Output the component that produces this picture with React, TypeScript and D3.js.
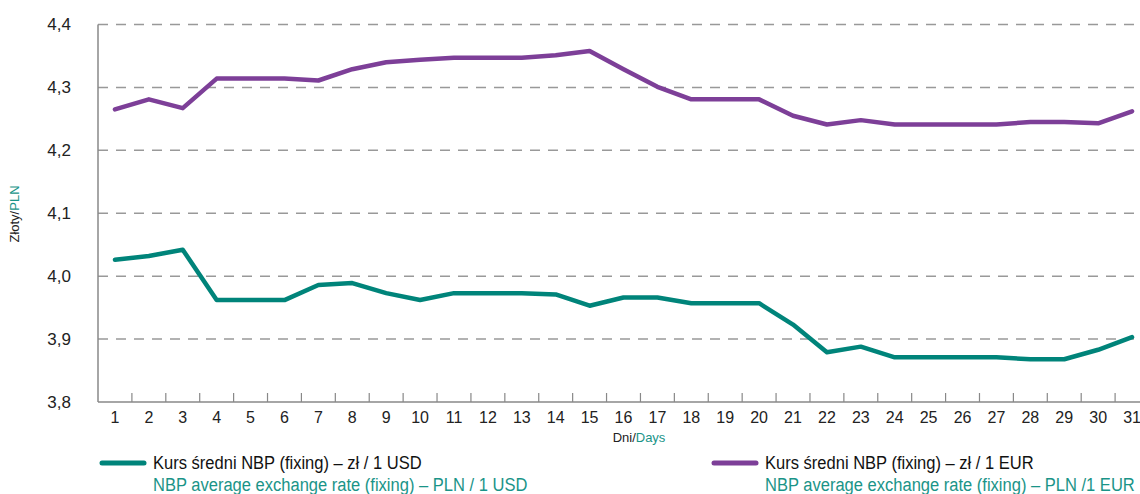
import React, { useEffect, useRef } from "react";
import * as d3 from "d3";

// days of the month
const days = d3.range(1, 32).map(String);

// Kurs średni NBP – zł / 1 USD
const usdValues = [
  4.026, 4.032, 4.042, 3.962, 3.962, 3.962, 3.986, 3.989, 3.973, 3.962,
  3.973, 3.973, 3.973, 3.971, 3.953, 3.966, 3.966, 3.957, 3.957, 3.957,
  3.923, 3.879, 3.888, 3.871, 3.871, 3.871, 3.871, 3.868, 3.868, 3.883,
  3.903,
];

// Kurs średni NBP – zł / 1 EUR
const eurValues = [
  4.265, 4.281, 4.267, 4.314, 4.314, 4.314, 4.311, 4.329, 4.34, 4.344,
  4.347, 4.347, 4.347, 4.351, 4.358, 4.329, 4.301, 4.281, 4.281, 4.281,
  4.255, 4.241, 4.248, 4.241, 4.241, 4.241, 4.241, 4.245, 4.245, 4.243,
  4.262,
];

const yTicks = [3.8, 3.9, 4.0, 4.1, 4.2, 4.3, 4.4];

const TEAL = "#00847a";
const TEAL_TEXT = "#1a9488";
const PURPLE = "#7d3f98";
const FONT = "'Liberation Sans', Arial, sans-serif";

const App = () => {
  const ref = useRef<SVGSVGElement>(null);

  useEffect(() => {
    const svg = d3.select(ref.current);
    svg.selectAll("*").remove();

    const width = 1140;
    const margin = { top: 24.5, left: 98, bottom: 402 };

    const x = d3.scaleBand().domain(days).range([margin.left, 1149]).padding(0);
    const y = d3.scaleLinear().domain([3.8, 4.4]).range([margin.bottom, margin.top]);
    const cx = (d: string) => (x(d) as number) + x.bandwidth() / 2;

    // grid lines
    svg
      .append("g")
      .selectAll("line")
      .data(yTicks.filter((t) => t > 3.8))
      .join("line")
      .attr("x1", margin.left)
      .attr("x2", width)
      .attr("y1", (d) => y(d))
      .attr("y2", (d) => y(d))
      .attr("stroke", "#999")
      .attr("stroke-width", 1.5)
      .attr("stroke-dasharray", "10,8");

    // y labels
    svg
      .append("g")
      .attr("font-family", FONT)
      .attr("font-size", 17)
      .attr("fill", "#222")
      .attr("text-anchor", "end")
      .selectAll("text")
      .data(yTicks)
      .join("text")
      .attr("x", 71)
      .attr("y", (d) => y(d))
      .attr("dy", "0.35em")
      .text((d) => d3.format(".1f")(d).replace(".", ","));

    // axes lines
    svg
      .append("line")
      .attr("x1", margin.left)
      .attr("x2", margin.left)
      .attr("y1", margin.top)
      .attr("y2", margin.bottom)
      .attr("stroke", "#888")
      .attr("stroke-width", 1.5);
    svg
      .append("line")
      .attr("x1", margin.left)
      .attr("x2", width)
      .attr("y1", margin.bottom)
      .attr("y2", margin.bottom)
      .attr("stroke", "#888")
      .attr("stroke-width", 1.5);

    // x ticks (inside)
    svg
      .append("g")
      .selectAll("line")
      .data(days.slice(1))
      .join("line")
      .attr("x1", (d) => x(d) as number)
      .attr("x2", (d) => x(d) as number)
      .attr("y1", margin.bottom - 9)
      .attr("y2", margin.bottom)
      .attr("stroke", "#888")
      .attr("stroke-width", 1.2);

    // x labels
    svg
      .append("g")
      .attr("font-family", FONT)
      .attr("font-size", 16)
      .attr("fill", "#222")
      .attr("text-anchor", "middle")
      .selectAll("text")
      .data(days)
      .join("text")
      .attr("x", cx)
      .attr("y", 423)
      .text((d) => d);

    // axis titles
    const xt = svg
      .append("text")
      .attr("font-family", FONT)
      .attr("font-size", 13)
      .attr("text-anchor", "middle")
      .attr("x", 639)
      .attr("y", 442);
    xt.append("tspan").attr("fill", "#222").text("Dni/");
    xt.append("tspan").attr("fill", TEAL_TEXT).text("Days");

    const yt = svg
      .append("text")
      .attr("font-family", FONT)
      .attr("font-size", 13)
      .attr("text-anchor", "middle")
      .attr("transform", "translate(19,214) rotate(-90)");
    yt.append("tspan").attr("fill", "#222").text("Złoty/");
    yt.append("tspan").attr("fill", TEAL_TEXT).text("PLN");

    // lines
    const line = d3
      .line<number>()
      .x((_, i) => cx(days[i]))
      .y((d) => y(d));

    [
      { values: usdValues, color: TEAL },
      { values: eurValues, color: PURPLE },
    ].forEach((s) => {
      svg
        .append("path")
        .datum(s.values)
        .attr("d", line)
        .attr("fill", "none")
        .attr("stroke", s.color)
        .attr("stroke-width", 4.5)
        .attr("stroke-linejoin", "round")
        .attr("stroke-linecap", "round");
    });

    // legend (condensed look via horizontal scale)
    const legend = [
      {
        x: 102,
        color: TEAL,
        pl: "Kurs średni NBP (fixing) – zł / 1 USD",
        en: "NBP average exchange rate (fixing) – PLN / 1 USD",
      },
      {
        x: 714,
        color: PURPLE,
        pl: "Kurs średni NBP (fixing) – zł / 1 EUR",
        en: "NBP average exchange rate (fixing) – PLN /1 EUR",
      },
    ];
    const lg = svg
      .append("g")
      .selectAll("g")
      .data(legend)
      .join("g")
      .attr("transform", (d) => `translate(${d.x},463)`);
    lg.append("line")
      .attr("x1", 0)
      .attr("x2", 42)
      .attr("stroke", (d) => d.color)
      .attr("stroke-width", 5)
      .attr("stroke-linecap", "round");
    lg.append("text")
      .attr("transform", "translate(51,6) scale(0.87,1)")
      .attr("font-family", FONT)
      .attr("font-size", 19)
      .attr("fill", "#111")
      .text((d) => d.pl);
    lg.append("text")
      .attr("transform", "translate(51,28) scale(0.87,1)")
      .attr("font-family", FONT)
      .attr("font-size", 19)
      .attr("fill", TEAL_TEXT)
      .text((d) => d.en);
  }, []);

  return (
    <svg
      ref={ref}
      width={1140}
      height={494}
      style={{ position: "absolute", left: 0, top: 0, background: "#fff" }}
    />
  );
};

export default App;
